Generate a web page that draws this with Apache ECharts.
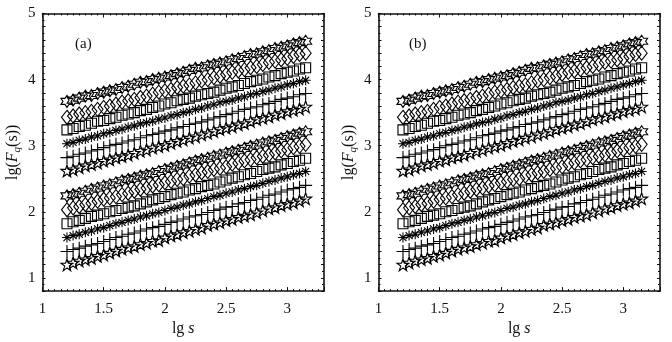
<!DOCTYPE html>
<html><head><meta charset="utf-8">
<script src="https://cdn.jsdelivr.net/npm/echarts@6/dist/echarts.min.js"></script>
<style>html,body{margin:0;padding:0;background:#fff}#c{width:672px;height:342px}</style>
</head><body><div id="c"></div>
<script>
// lg s
const lgS = [1.20,1.25,1.30,1.35,1.40,1.45,1.50,1.55,1.60,1.65,1.70,1.75,1.80,1.85,1.90,1.95,2.00,2.05,2.10,2.15,2.20,2.25,2.30,2.35,2.40,2.45,2.50,2.55,2.60,2.65,2.70,2.75,2.80,2.85,2.90,2.95,3.00,3.05,3.10,3.15];
// upper group
const upHex = [3.67,3.69,3.72,3.75,3.76,3.79,3.81,3.83,3.85,3.88,3.90,3.93,3.96,3.97,4.00,4.02,4.04,4.06,4.09,4.11,4.14,4.17,4.18,4.21,4.23,4.25,4.27,4.30,4.32,4.35,4.38,4.39,4.42,4.44,4.47,4.49,4.51,4.54,4.56,4.58];
const upDia = [3.43,3.45,3.48,3.50,3.52,3.55,3.58,3.60,3.63,3.66,3.68,3.70,3.73,3.75,3.78,3.81,3.83,3.85,3.88,3.90,3.92,3.95,3.98,4.00,4.03,4.05,4.08,4.11,4.13,4.15,4.18,4.20,4.23,4.26,4.28,4.30,4.32,4.35,4.38,4.40];
const upSq  = [3.24,3.26,3.29,3.31,3.34,3.37,3.38,3.41,3.43,3.46,3.48,3.50,3.53,3.55,3.58,3.60,3.63,3.65,3.68,3.70,3.72,3.75,3.77,3.79,3.81,3.84,3.87,3.89,3.91,3.94,3.97,3.99,4.01,4.04,4.06,4.09,4.11,4.13,4.16,4.18];
const upAst = [3.03,3.05,3.08,3.10,3.13,3.15,3.18,3.20,3.23,3.25,3.28,3.30,3.33,3.35,3.37,3.40,3.42,3.45,3.47,3.50,3.52,3.55,3.57,3.60,3.62,3.65,3.67,3.69,3.72,3.74,3.77,3.79,3.82,3.84,3.87,3.89,3.92,3.94,3.97,3.99];
const upPlus= [2.82,2.84,2.87,2.89,2.92,2.94,2.97,3.00,3.02,3.04,3.07,3.09,3.12,3.15,3.17,3.19,3.22,3.24,3.27,3.29,3.32,3.34,3.36,3.39,3.42,3.44,3.47,3.49,3.52,3.55,3.57,3.59,3.62,3.64,3.67,3.70,3.72,3.74,3.77,3.79];
const upPent= [2.62,2.64,2.67,2.70,2.72,2.74,2.77,2.79,2.82,2.84,2.86,2.89,2.92,2.94,2.97,2.99,3.01,3.04,3.07,3.09,3.12,3.14,3.17,3.19,3.22,3.25,3.27,3.29,3.32,3.34,3.37,3.40,3.42,3.44,3.47,3.49,3.52,3.54,3.56,3.59];
// lower group
const loHex = [2.24,2.26,2.28,2.31,2.34,2.36,2.39,2.41,2.44,2.47,2.49,2.51,2.54,2.56,2.58,2.61,2.64,2.66,2.69,2.71,2.74,2.77,2.79,2.81,2.84,2.86,2.89,2.91,2.93,2.96,2.99,3.01,3.04,3.06,3.08,3.11,3.14,3.16,3.19,3.21];
const loDia = [2.03,2.06,2.08,2.11,2.13,2.16,2.19,2.21,2.23,2.26,2.28,2.31,2.34,2.36,2.39,2.41,2.44,2.46,2.49,2.50,2.54,2.56,2.59,2.61,2.64,2.66,2.68,2.72,2.74,2.77,2.79,2.82,2.84,2.86,2.89,2.92,2.94,2.97,2.99,3.02];
const loSq  = [1.82,1.85,1.87,1.90,1.93,1.95,1.97,2.00,2.02,2.05,2.07,2.09,2.12,2.15,2.18,2.20,2.23,2.26,2.28,2.30,2.33,2.35,2.38,2.40,2.42,2.45,2.48,2.51,2.53,2.56,2.58,2.61,2.64,2.66,2.68,2.71,2.73,2.76,2.78,2.81];
const loAst = [1.61,1.64,1.66,1.69,1.71,1.74,1.76,1.79,1.82,1.84,1.87,1.89,1.92,1.94,1.97,1.99,2.02,2.05,2.07,2.10,2.12,2.15,2.17,2.20,2.23,2.25,2.28,2.30,2.33,2.35,2.38,2.40,2.43,2.46,2.48,2.51,2.53,2.56,2.58,2.61];
const loPlus= [1.40,1.43,1.45,1.48,1.50,1.52,1.55,1.58,1.61,1.63,1.66,1.68,1.71,1.74,1.76,1.78,1.81,1.84,1.86,1.89,1.92,1.94,1.96,1.99,2.02,2.04,2.07,2.08,2.12,2.14,2.17,2.19,2.22,2.25,2.27,2.30,2.33,2.35,2.37,2.40];
const loPent= [1.20,1.23,1.26,1.28,1.30,1.33,1.35,1.38,1.41,1.44,1.46,1.48,1.51,1.53,1.56,1.57,1.61,1.64,1.66,1.69,1.71,1.74,1.76,1.80,1.82,1.84,1.87,1.89,1.92,1.94,1.96,1.99,2.02,2.05,2.07,2.10,2.12,2.14,2.17,2.20];
const xTickLabels = ['1','1.5','2','2.5','3'];
const yTickLabels = ['1','2','3','4','5'];
const panelLabels = ['(a)','(b)'];

const HEX = 'path://M10 0L12.89 5L18.66 5L15.77 10L18.66 15L12.89 15L10 20L7.11 15L1.34 15L4.23 10L1.34 5L7.11 5Z';
const PENT = 'path://M10 0L12.25 6.91L19.51 6.91L13.63 11.18L15.88 18.09L10 13.82L4.12 18.09L6.37 11.18L0.49 6.91L7.75 6.91Z';
const AST = 'path://M10 0L10 20M0 10L20 10M3 3L17 17M17 3L3 17';
const PLUS = 'path://M10 0L10 20M0 10L20 10';

const groups = [
  {d: upHex, sym: HEX, size: 12}, {d: upDia, sym: 'diamond', size: [11,14]}, {d: upSq, sym: 'rect', size: 10},
  {d: upAst, sym: AST, size: 10}, {d: upPlus, sym: PLUS, size: 13}, {d: upPent, sym: PENT, size: 12},
  {d: loHex, sym: HEX, size: 12}, {d: loDia, sym: 'diamond', size: [11,14]}, {d: loSq, sym: 'rect', size: 10},
  {d: loAst, sym: AST, size: 10}, {d: loPlus, sym: PLUS, size: 13}, {d: loPent, sym: PENT, size: 12}
];

const FONT = 'Liberation Serif';
const grids = [
  {left: 42.5, top: 13.5, width: 281.5, height: 281.5},
  {left: 378.5, top: 13.5, width: 281.5, height: 281.5}
];
const xAxes = [], yAxes = [], series = [];
const lineStyle = {color: '#111', width: 1.6};
grids.forEach((g, gi) => {
  xAxes.push({gridIndex: gi, type: 'value', min: 1, max: 3.3, interval: 0.5, position: 'bottom',
    name: '{a|lg}{i| s}', nameLocation: 'middle', nameGap: 25,
    nameTextStyle: {rich: {a: {fontFamily: FONT, fontSize: 16, color: '#111'}, i: {fontFamily: FONT, fontSize: 16, fontStyle: 'italic', color: '#111'}}},
    axisLine: {onZero: false, lineStyle}, splitLine: {show: false},
    axisTick: {inside: true, length: 4, lineStyle: {color: '#111'}},
    minorTick: {show: true, splitNumber: 10, length: 2, lineStyle: {color: '#111'}},
    axisLabel: {margin: 10, fontFamily: FONT, fontSize: 15, color: '#111',
      formatter: v => { const s = String(+v.toFixed(2)); return xTickLabels.includes(s) ? s : ''; }}
  });
  xAxes.push({gridIndex: gi, type: 'value', min: 1, max: 3.3, interval: 0.5, position: 'top',
    axisLine: {onZero: false, lineStyle}, splitLine: {show: false},
    axisTick: {inside: true, length: 4, lineStyle: {color: '#111'}},
    minorTick: {show: true, splitNumber: 10, length: 2, lineStyle: {color: '#111'}},
    axisLabel: {show: false}
  });
  yAxes.push({gridIndex: gi, type: 'value', min: 0.8, max: 5, interval: 0.2, position: 'left',
    name: '{a|lg(}{i|F}{q|q}{a|(s))}', nameLocation: 'middle', nameGap: 20, nameRotate: 90,
    nameTextStyle: {rich: {a: {fontFamily: FONT, fontSize: 16, color: '#111'}, i: {fontFamily: FONT, fontSize: 16, fontStyle: 'italic', color: '#111'},
      q: {fontFamily: FONT, fontSize: 11, fontStyle: 'italic', color: '#111', verticalAlign: 'bottom', padding: [8,0,0,0]}}},
    axisLine: {onZero: false, lineStyle}, splitLine: {show: false},
    axisTick: {inside: true, length: 3, lineStyle: {color: '#111'}},
    minorTick: {show: true, splitNumber: 2, length: 2, lineStyle: {color: '#111'}},
    axisLabel: {margin: 7, fontFamily: FONT, fontSize: 15, color: '#111',
      formatter: v => { const s = String(+v.toFixed(2)); return yTickLabels.includes(s) ? s : ''; }}
  });
  yAxes.push({gridIndex: gi, type: 'value', min: 0.8, max: 5, interval: 0.2, position: 'right',
    axisLine: {onZero: false, lineStyle}, splitLine: {show: false},
    axisTick: {inside: true, length: 3, lineStyle: {color: '#111'}},
    minorTick: {show: true, splitNumber: 2, length: 2, lineStyle: {color: '#111'}},
    axisLabel: {show: false}
  });
  groups.forEach(s => {
    series.push({type: 'scatter', xAxisIndex: gi * 2, yAxisIndex: gi * 2,
      symbol: s.sym, symbolSize: s.size, symbolKeepAspect: false,
      itemStyle: {color: 'rgba(0,0,0,0)', borderColor: '#000', borderWidth: 1.1, opacity: 1},
      emphasis: {disabled: true},
      data: lgS.map((x, i) => [x, s.d[i]])});
  });
});

const chart = echarts.init(document.getElementById('c'), null, {renderer: 'canvas'});
chart.setOption({
  animation: false,
  backgroundColor: '#fff',
  title: panelLabels.map((t, i) => ({text: t, left: [70, 404][i], top: 32,
    textStyle: {fontFamily: FONT, fontSize: 15, fontWeight: 'normal', color: '#111'}})),
  grid: grids,
  xAxis: xAxes,
  yAxis: yAxes,
  series
});
</script></body></html>
